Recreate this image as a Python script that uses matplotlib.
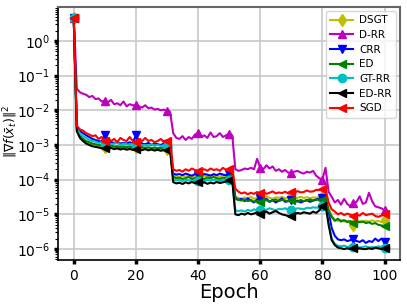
import matplotlib
matplotlib.use("Agg")
import matplotlib.pyplot as plt

epochs = list(range(101))

dsgt = [4.5,
        2.6e-3, 1.7e-3, 1.4e-3, 1.2e-3, 1.1e-3, 1.05e-3, 1.0e-3, 9.6e-4, 9.3e-4, 9.0e-4,
        8.8e-4, 9.2e-4, 8.5e-4, 8.7e-4, 8.3e-4, 8.9e-4, 8.2e-4, 8.4e-4, 8.0e-4, 8.6e-4,
        8.1e-4, 7.8e-4, 8.3e-4, 7.6e-4, 8.0e-4, 7.4e-4, 7.9e-4, 7.5e-4, 7.2e-4, 7.8e-4,
        7.6e-4, 1.3e-4, 1.25e-4, 1.15e-4, 1.3e-4, 1.2e-4, 1.35e-4, 1.18e-4, 1.25e-4, 1.3e-4,
        1.2e-4, 1.28e-4, 1.22e-4, 1.35e-4, 1.25e-4, 1.3e-4, 1.2e-4, 1.38e-4, 1.26e-4, 1.3e-4,
        1.3e-4, 3.2e-5, 3.0e-5, 2.8e-5, 3.1e-5, 2.9e-5, 3.2e-5, 2.8e-5, 3.0e-5, 3.1e-5,
        2.9e-5, 3.3e-5, 3.0e-5, 2.8e-5, 3.1e-5, 3.0e-5, 3.2e-5, 2.9e-5, 3.0e-5, 3.1e-5,
        2.9e-5, 3.0e-5, 3.2e-5, 3.0e-5, 3.1e-5, 2.9e-5, 3.1e-5, 3.0e-5, 3.2e-5, 3.1e-5,
        3.1e-5, 1.5e-5, 9.0e-6, 7.0e-6, 6.5e-6, 7.0e-6, 6.2e-6, 6.6e-6, 5.8e-6, 4.8e-6,
        6.0e-6, 6.4e-6, 5.9e-6, 6.6e-6, 6.1e-6, 6.8e-6, 6.2e-6, 6.5e-6, 6.0e-6, 7.0e-6]

drr = [4.5,
       4.2e-2, 3.3e-2, 3.0e-2, 2.8e-2, 2.4e-2, 2.6e-2, 2.1e-2, 2.2e-2, 1.8e-2, 1.9e-2,
       1.7e-2, 2.0e-2, 1.5e-2, 1.6e-2, 1.4e-2, 1.8e-2, 1.3e-2, 1.5e-2, 1.4e-2, 1.4e-2,
       1.3e-2, 1.2e-2, 1.4e-2, 1.15e-2, 1.2e-2, 1.05e-2, 1.1e-2, 1.0e-2, 1.05e-2, 9.5e-3,
       9.0e-3, 2.2e-3, 1.6e-3, 1.5e-3, 1.8e-3, 1.4e-3, 1.7e-3, 1.5e-3, 2.0e-3, 2.2e-3,
       1.7e-3, 1.9e-3, 1.6e-3, 2.3e-3, 1.7e-3, 1.8e-3, 2.2e-3, 1.7e-3, 1.9e-3, 2.1e-3,
       1.9e-3, 2.0e-4, 1.8e-4, 1.9e-4, 2.1e-4, 2.0e-4, 2.2e-4, 2.0e-4, 4.0e-4, 2.2e-4,
       2.0e-4, 2.6e-4, 2.1e-4, 2.4e-4, 1.8e-4, 2.0e-4, 1.7e-4, 1.9e-4, 1.6e-4, 1.6e-4,
       1.7e-4, 1.8e-4, 1.6e-4, 1.5e-4, 1.7e-4, 1.6e-4, 1.8e-4, 1.3e-4, 1.1e-4, 1.0e-4,
       2.2e-4, 4.5e-5, 3.2e-5, 2.2e-5, 2.6e-5, 1.9e-5, 2.8e-5, 2.0e-5, 1.7e-5, 2.1e-5,
       2.3e-5, 3.3e-5, 2.0e-5, 2.2e-5, 4.2e-5, 2.4e-5, 1.7e-5, 1.6e-5, 1.5e-5, 1.3e-5]

crr = [4.5,
       3.4e-3, 2.5e-3, 2.2e-3, 1.9e-3, 1.7e-3, 1.5e-3, 1.4e-3, 1.3e-3, 1.25e-3, 2.0e-3,
       1.3e-3, 1.2e-3, 1.15e-3, 1.2e-3, 1.1e-3, 1.15e-3, 1.1e-3, 1.2e-3, 1.1e-3, 2.0e-3,
       1.2e-3, 1.1e-3, 1.05e-3, 1.15e-3, 1.0e-3, 1.1e-3, 1.05e-3, 1.0e-3, 1.1e-3, 1.05e-3,
       1.05e-3, 1.5e-4, 1.4e-4, 1.45e-4, 1.35e-4, 1.5e-4, 1.4e-4, 1.3e-4, 1.45e-4, 1.4e-4,
       1.35e-4, 1.45e-4, 1.4e-4, 1.3e-4, 1.45e-4, 1.35e-4, 1.5e-4, 1.4e-4, 1.35e-4, 1.45e-4,
       1.4e-4, 3.0e-5, 2.6e-5, 2.8e-5, 2.4e-5, 2.9e-5, 2.5e-5, 2.2e-5, 2.7e-5, 3.0e-5,
       2.4e-5, 2.8e-5, 2.3e-5, 2.6e-5, 2.2e-5, 2.5e-5, 2.9e-5, 2.3e-5, 2.4e-5, 2.6e-5,
       2.3e-5, 2.5e-5, 2.2e-5, 2.4e-5, 2.6e-5, 2.3e-5, 2.5e-5, 2.7e-5, 2.8e-5, 3.0e-5,
       3.0e-5, 1.2e-5, 4.0e-6, 2.4e-6, 1.9e-6, 1.8e-6, 1.9e-6, 1.7e-6, 1.8e-6, 1.9e-6,
       1.7e-6, 1.6e-6, 1.8e-6, 1.5e-6, 1.7e-6, 1.6e-6, 2.0e-6, 1.7e-6, 2.0e-6, 1.6e-6]

ed = [4.5,
      2.8e-3, 1.8e-3, 1.5e-3, 1.3e-3, 1.2e-3, 1.1e-3, 1.05e-3, 1.0e-3, 9.8e-4, 9.6e-4,
      9.3e-4, 9.6e-4, 9.0e-4, 9.2e-4, 8.8e-4, 9.1e-4, 8.7e-4, 8.9e-4, 8.6e-4, 8.8e-4,
      8.5e-4, 8.7e-4, 8.3e-4, 8.6e-4, 8.2e-4, 8.4e-4, 8.0e-4, 8.3e-4, 7.9e-4, 8.1e-4,
      8.0e-4, 1.2e-4, 1.1e-4, 1.15e-4, 1.05e-4, 1.1e-4, 1.2e-4, 1.05e-4, 1.1e-4, 1.15e-4,
      1.1e-4, 1.05e-4, 1.15e-4, 1.1e-4, 1.2e-4, 1.1e-4, 1.05e-4, 1.15e-4, 1.1e-4, 1.2e-4,
      1.2e-4, 2.8e-5, 2.6e-5, 2.5e-5, 2.7e-5, 2.4e-5, 2.6e-5, 2.3e-5, 2.5e-5, 2.2e-5,
      2.4e-5, 2.6e-5, 2.3e-5, 2.5e-5, 2.7e-5, 2.4e-5, 2.6e-5, 2.5e-5, 2.4e-5, 2.6e-5,
      2.5e-5, 2.3e-5, 2.6e-5, 2.4e-5, 2.5e-5, 2.7e-5, 2.5e-5, 2.6e-5, 2.7e-5, 2.6e-5,
      2.6e-5, 1.3e-5, 8.5e-6, 6.5e-6, 7.5e-6, 6.2e-6, 6.8e-6, 6.0e-6, 6.4e-6, 5.8e-6,
      6.2e-6, 5.9e-6, 6.3e-6, 5.6e-6, 5.9e-6, 5.3e-6, 5.6e-6, 5.0e-6, 4.8e-6, 4.5e-6]

gtrr = [4.5,
        3.0e-3, 2.1e-3, 1.8e-3, 1.6e-3, 1.4e-3, 1.3e-3, 1.25e-3, 1.15e-3, 1.2e-3, 1.1e-3,
        1.15e-3, 1.05e-3, 1.1e-3, 1.2e-3, 1.0e-3, 1.1e-3, 1.05e-3, 1.0e-3, 1.1e-3, 1.0e-3,
        1.05e-3, 9.8e-4, 1.0e-3, 9.5e-4, 1.05e-3, 9.6e-4, 1.0e-3, 9.4e-4, 9.8e-4, 9.5e-4,
        9.5e-4, 1.0e-4, 9.5e-5, 9.8e-5, 9.2e-5, 1.0e-4, 9.6e-5, 9.0e-5, 9.8e-5, 9.4e-5,
        9.6e-5, 9.2e-5, 9.8e-5, 9.4e-5, 1.0e-4, 9.5e-5, 9.2e-5, 9.8e-5, 9.5e-5, 1.0e-4,
        1.0e-4, 1.3e-5, 1.25e-5, 1.3e-5, 1.2e-5, 1.35e-5, 1.25e-5, 1.4e-5, 1.3e-5, 1.3e-5,
        1.4e-5, 1.35e-5, 1.5e-5, 1.4e-5, 1.3e-5, 1.45e-5, 1.4e-5, 1.5e-5, 1.35e-5, 1.3e-5,
        1.4e-5, 1.5e-5, 1.45e-5, 1.4e-5, 1.55e-5, 1.5e-5, 1.6e-5, 1.55e-5, 1.6e-5, 1.7e-5,
        1.7e-5, 6.0e-6, 2.0e-6, 1.4e-6, 1.25e-6, 1.2e-6, 1.25e-6, 1.15e-6, 1.2e-6, 1.15e-6,
        1.2e-6, 1.1e-6, 1.15e-6, 1.2e-6, 1.1e-6, 1.15e-6, 1.1e-6, 1.2e-6, 1.15e-6, 1.1e-6]

edrr = [4.5,
        2.5e-3, 1.6e-3, 1.3e-3, 1.1e-3, 1.0e-3, 9.2e-4, 8.8e-4, 8.5e-4, 8.0e-4, 8.2e-4,
        7.8e-4, 8.2e-4, 7.6e-4, 8.0e-4, 7.4e-4, 7.9e-4, 7.3e-4, 7.7e-4, 7.2e-4, 7.8e-4,
        7.5e-4, 7.1e-4, 7.6e-4, 7.0e-4, 7.4e-4, 6.9e-4, 7.3e-4, 6.8e-4, 7.2e-4, 7.0e-4,
        7.0e-4, 8.5e-5, 7.8e-5, 8.2e-5, 7.5e-5, 8.4e-5, 7.8e-5, 8.6e-5, 7.9e-5, 8.3e-5,
        7.7e-5, 8.4e-5, 7.6e-5, 8.2e-5, 7.8e-5, 8.6e-5, 8.0e-5, 8.4e-5, 8.8e-5, 9.5e-5,
        9.5e-5, 1.0e-5, 9.5e-6, 1.05e-5, 9.8e-6, 1.1e-5, 1.0e-5, 1.05e-5, 1.15e-5, 1.05e-5,
        1.1e-5, 1.2e-5, 1.05e-5, 1.15e-5, 1.25e-5, 1.1e-5, 1.0e-5, 9.5e-6, 9.0e-6, 8.7e-6,
        1.0e-5, 1.1e-5, 1.05e-5, 1.15e-5, 1.1e-5, 1.05e-5, 1.2e-5, 1.1e-5, 1.3e-5, 1.8e-5,
        2.0e-5, 5.0e-6, 1.8e-6, 1.3e-6, 1.1e-6, 1.05e-6, 1.0e-6, 1.05e-6, 1.0e-6, 1.05e-6,
        1.0e-6, 1.05e-6, 1.0e-6, 1.0e-6, 1.05e-6, 1.0e-6, 1.1e-6, 1.05e-6, 1.0e-6, 1.05e-6]

sgd = [4.5,
       3.6e-3, 2.8e-3, 2.6e-3, 2.2e-3, 2.0e-3, 1.8e-3, 1.9e-3, 1.5e-3, 1.7e-3, 1.3e-3,
       1.6e-3, 1.3e-3, 1.5e-3, 1.2e-3, 1.6e-3, 1.4e-3, 1.3e-3, 1.7e-3, 1.3e-3, 1.2e-3,
       1.5e-3, 1.3e-3, 1.6e-3, 1.3e-3, 1.4e-3, 1.2e-3, 1.3e-3, 1.5e-3, 1.2e-3, 1.3e-3,
       1.3e-3, 2.0e-4, 1.8e-4, 1.9e-4, 1.7e-4, 2.0e-4, 1.8e-4, 2.1e-4, 1.9e-4, 1.8e-4,
       1.9e-4, 2.0e-4, 1.8e-4, 2.1e-4, 1.9e-4, 2.0e-4, 1.8e-4, 2.2e-4, 1.9e-4, 2.0e-4,
       2.0e-4, 5.5e-5, 4.5e-5, 4.0e-5, 4.3e-5, 3.8e-5, 4.2e-5, 3.9e-5, 4.4e-5, 4.0e-5,
       4.5e-5, 3.9e-5, 4.2e-5, 4.6e-5, 4.0e-5, 4.3e-5, 4.1e-5, 4.5e-5, 4.0e-5, 4.4e-5,
       4.2e-5, 4.7e-5, 4.3e-5, 4.4e-5, 4.9e-5, 4.5e-5, 4.6e-5, 5.1e-5, 5.0e-5, 5.3e-5,
       5.5e-5, 2.2e-5, 1.4e-5, 1.2e-5, 1.0e-5, 1.1e-5, 9.5e-6, 1.05e-5, 9.8e-6, 8.8e-6,
       1.0e-5, 9.2e-6, 1.1e-5, 9.5e-6, 1.0e-5, 1.05e-5, 9.0e-6, 8.5e-6, 9.2e-6, 1.0e-5]

labels = ["DSGT", "D-RR", "CRR", "ED", "GT-RR", "ED-RR", "SGD"]
series = [dsgt, drr, crr, ed, gtrr, edrr, sgd]
colors = ["y", "m", "b", "g", "c", "k", "r"]
markers = ["d", "^", "v", "<", "o", "<", "<"]

for s in series:
    assert len(s) == len(epochs)

fig, ax = plt.subplots(figsize=(4.07, 3.06), dpi=100)
fig.subplots_adjust(left=0.143, right=0.983, top=0.977, bottom=0.15)

for vals, lab, col, mk in zip(series, labels, colors, markers):
    ax.semilogy(epochs, vals, color=col, marker=mk, markevery=10,
                markersize=6, linewidth=1.5, label=lab)

ax.set_xlim(-5, 105)
ax.set_ylim(4.8e-7, 9.5)
ax.set_xticks([0, 20, 40, 60, 80, 100])
ax.grid(True, which="major", color="#c8c8c8", linewidth=1.2)
ax.tick_params(axis="both", which="major", labelsize=10, length=3, width=2.5)
ax.tick_params(axis="y", which="major", pad=2.5)
ax.tick_params(axis="y", which="minor", length=2, width=0.8)

for side in ["top", "right"]:
    ax.spines[side].set_color("#666666")
    ax.spines[side].set_linewidth(1.5)
for side in ["left", "bottom"]:
    ax.spines[side].set_linewidth(1.2)

ax.set_xlabel("Epoch", fontsize=14, labelpad=0)
ax.set_ylabel(r"$\|\nabla f(\bar{x}_t)\|^2$", fontsize=9)
ax.yaxis.set_label_coords(-0.113, 0.51)
ax.legend(loc="upper right", fontsize=7.5, handlelength=2.2,
          labelspacing=0.45, borderaxespad=0.4, handletextpad=0.6)

plt.savefig("out.png", dpi=100)
plt.close()
